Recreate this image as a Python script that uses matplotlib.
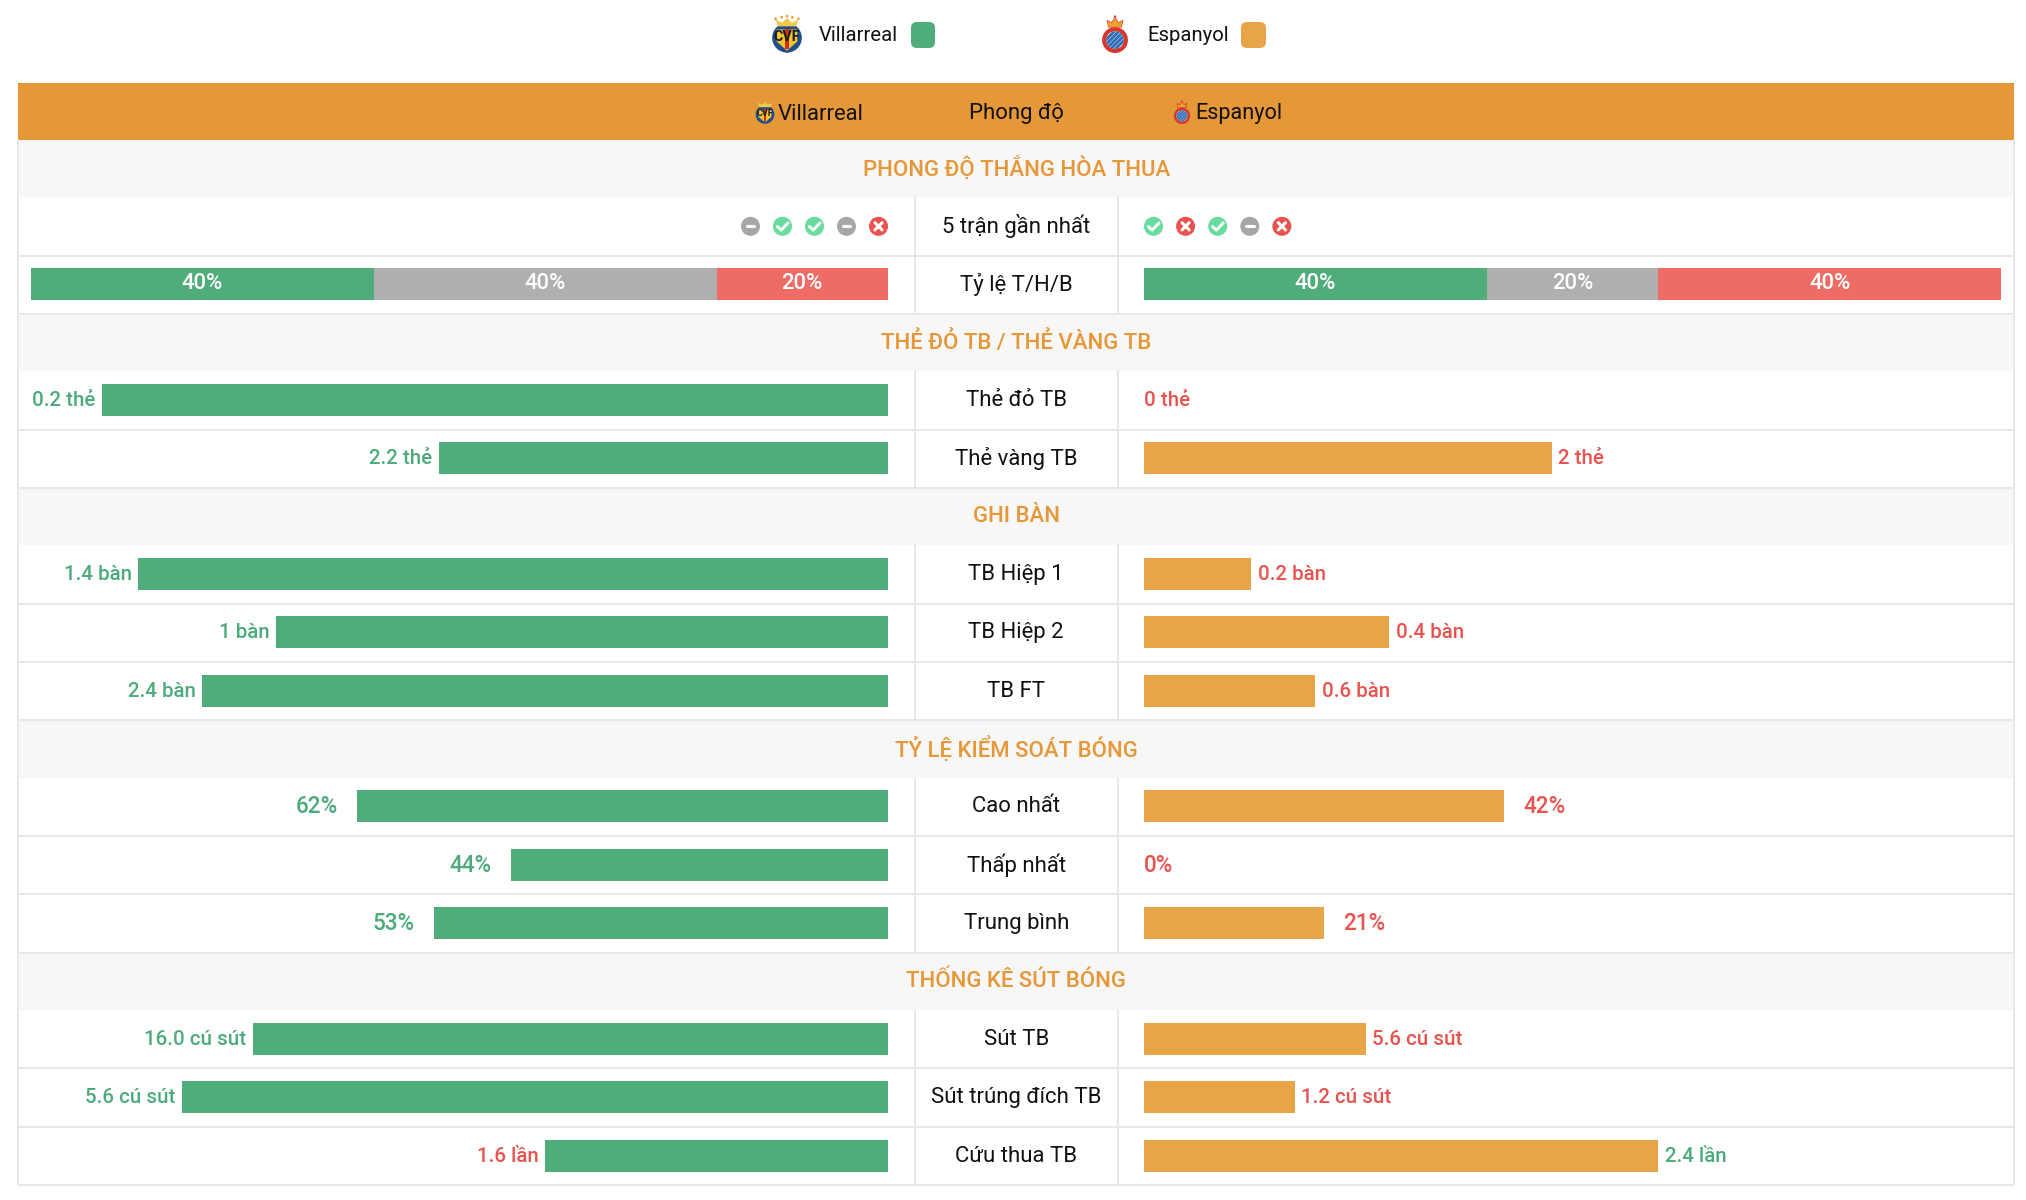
import matplotlib
matplotlib.use("Agg")
import matplotlib.pyplot as plt
from matplotlib.patches import Rectangle, FancyBboxPatch, Circle, Polygon

GREEN = "#4FAC7B"
ORANGE = "#E8A547"
GREY = "#AFAFAF"
RED = "#EF6B65"
HEADER = "#E69737"
TXT_GREEN = "#4DAB7B"
TXT_RED = "#E8534F"
LINE = "#E8E8E8"

sections = ["PHONG ĐỘ THẮNG HÒA THUA", "THẺ ĐỎ TB / THẺ VÀNG TB", "GHI BÀN",
            "TỶ LỆ KIỂM SOÁT BÓNG", "THỐNG KÊ SÚT BÓNG"]
rows_per_section = [2, 2, 3, 3, 3]

form_home = ["D", "W", "W", "D", "L"]
form_away = ["W", "L", "W", "D", "L"]
rate_home = [40, 40, 20]
rate_away = [40, 20, 40]

stat_names = ["Thẻ đỏ TB", "Thẻ vàng TB", "TB Hiệp 1", "TB Hiệp 2", "TB FT",
              "Cao nhất", "Thấp nhất", "Trung bình", "Sút TB", "Sút trúng đích TB", "Cứu thua TB"]
# bar length as share of the cell
home_share = [0.917, 0.524, 0.875, 0.714, 0.80, 0.62, 0.44, 0.53, 0.741, 0.824, 0.40]
away_share = [0.0, 0.476, 0.125, 0.286, 0.20, 0.42, 0.0, 0.21, 0.259, 0.176, 0.60]
home_labels = ["0.2 thẻ", "2.2 thẻ", "1.4 bàn", "1 bàn", "2.4 bàn", "62%", "44%", "53%",
               "16.0 cú sút", "5.6 cú sút", "1.6 lần"]
away_labels = ["0 thẻ", "2 thẻ", "0.2 bàn", "0.4 bàn", "0.6 bàn", "42%", "0%", "21%",
               "5.6 cú sút", "1.2 cú sút", "2.4 lần"]
home_label_win = [True, True, True, True, True, True, True, True, True, True, False]
away_label_win = [False, False, False, False, False, False, False, False, False, False, True]

plt.rcParams["font.family"] = ["Roboto", "DejaVu Sans"]

W, H = 2026, 1200
fig = plt.figure(figsize=(W / 100, H / 100), dpi=100)
ax = fig.add_axes([0, 0, 1, 1])
ax.set_xlim(0, W)
ax.set_ylim(H, 0)
ax.axis("off")

TABLE_L, TABLE_R = 18, 2013.5
COL_L, COL_R = 914.5, 1118
HOME_R, AWAY_L = 888, 1144
SPAN = 857
CENTER = (COL_L + COL_R) / 2
FS = 15.9
SEC_H = 57.1
ROW_H = 58.45


def villarreal_logo(x, y, s):
    # x, y is the centre, s the full height
    cy = y + .10 * s
    ax.add_patch(Circle((x, cy), .39 * s, fc="#1F4E8C", ec="none", zorder=3))
    ax.add_patch(Polygon([(x - .25 * s, cy + .26 * s), (x + .25 * s, cy + .26 * s), (x, y + .50 * s)],
                         fc="#1F4E8C", ec="none", zorder=3))
    ax.add_patch(Polygon([(x - .27 * s, cy - .22 * s), (x + .27 * s, cy - .22 * s), (x + .27 * s, cy + .10 * s),
                          (x, y + .44 * s), (x - .27 * s, cy + .10 * s)], fc="#F2C230", ec="none", zorder=3))
    ax.add_patch(Polygon([(x - .05 * s, cy - .22 * s), (x + .05 * s, cy - .22 * s), (x + .05 * s, y + .40 * s),
                          (x - .05 * s, y + .40 * s)], fc="#C8321F", ec="none", zorder=3))
    ax.text(x, cy - .03 * s, "CVF", fontsize=s * .27, fontweight="bold", color="#1A1A1A", ha="center", va="center", zorder=4)
    ax.add_patch(Polygon([(x - .24 * s, y - .20 * s), (x - .30 * s, y - .38 * s), (x - .13 * s, y - .30 * s), (x, y - .42 * s),
                          (x + .13 * s, y - .30 * s), (x + .30 * s, y - .38 * s), (x + .24 * s, y - .20 * s)],
                         fc="#F2C94C", ec="none", zorder=3))
    for dx, dy in ((-.30, -.40), (-.14, -.44), (0, -.47), (.14, -.44), (.30, -.40)):
        ax.add_patch(Circle((x + dx * s, y + dy * s), .035 * s, fc="#E8A030", ec="none", zorder=3))


def espanyol_logo(x, y, s):
    r = .34 * s
    cy = y + .16 * s
    ax.add_patch(Circle((x, cy), r, fc="#D8352B", ec="none", zorder=3))
    inner = Circle((x, cy), r * .68, fc="#FFFFFF", ec="none", zorder=3)
    ax.add_patch(inner)
    for k in (-2, -1, 0, 1, 2):
        d = k * r * .36
        stripe, = ax.plot([x + d - r * .8, x + d + r * .8], [cy + r * .8, cy - r * .8], color="#2F6DB5",
                          lw=s * .055, solid_capstyle="butt", zorder=4)
        stripe.set_clip_path(inner)
    ax.add_patch(Polygon([(x - .17 * s, y - .18 * s), (x - .21 * s, y - .36 * s), (x - .09 * s, y - .30 * s), (x, y - .44 * s),
                          (x + .09 * s, y - .30 * s), (x + .21 * s, y - .36 * s), (x + .17 * s, y - .18 * s)],
                         fc="#EBA52F", ec="#D8352B", lw=.5, zorder=3))
    ax.add_patch(Circle((x, y - .46 * s), .03 * s, fc="#D8352B", ec="none", zorder=3))


def result_icon(x, y, res):
    col = {"W": "#68DB9F", "L": "#E8534F", "D": "#A6A6A6"}[res]
    ax.add_patch(Circle((x, y), 9.5, fc=col, ec="none", zorder=3))
    if res == "W":
        ax.plot([x - 5.2, x - 1.4, x + 5.6], [y + .2, y + 3.8, y - 3.4], color="white", lw=2.1,
                solid_capstyle="round", zorder=4)
    elif res == "L":
        ax.plot([x - 3.6, x + 3.6], [y - 3.6, y + 3.6], color="white", lw=2.2, solid_capstyle="round", zorder=4)
        ax.plot([x - 3.6, x + 3.6], [y + 3.6, y - 3.6], color="white", lw=2.2, solid_capstyle="round", zorder=4)
    else:
        ax.plot([x - 3.8, x + 3.8], [y, y], color="white", lw=2.2, solid_capstyle="round", zorder=4)


# legend on top
villarreal_logo(787, 34, 38)
ax.text(819, 35.5, "Villarreal", fontsize=14.6, color="#111111", ha="left", va="center")
ax.add_patch(FancyBboxPatch((911, 22), 24, 26, boxstyle="round,pad=0,rounding_size=6", fc=GREEN, ec="none"))
espanyol_logo(1115, 34, 38)
ax.text(1147, 35.5, "Espanyol", fontsize=14.6, color="#111111", ha="left", va="center")
ax.add_patch(FancyBboxPatch((1241, 22), 25, 26, boxstyle="round,pad=0,rounding_size=6", fc=ORANGE, ec="none"))

# header band
ax.add_patch(Rectangle((TABLE_L, 83), TABLE_R - TABLE_L, 57, fc=HEADER, ec="none"))
villarreal_logo(765, 112, 24)
ax.text(778, 114, "Villarreal", fontsize=FS, color="#111111", ha="left", va="center")
ax.text(CENTER, 113, "Phong độ", fontsize=FS, color="#111111", ha="center", va="center")
espanyol_logo(1182, 112, 24)
ax.text(1195, 114, "Espanyol", fontsize=FS * .98, color="#111111", ha="left", va="center")

y = 140
stat_i = 0
for sec_i, title in enumerate(sections):
    ax.add_patch(Rectangle((TABLE_L, y), TABLE_R - TABLE_L, SEC_H, fc="#F7F7F7", ec="none"))
    ax.text(CENTER, y + SEC_H / 2, title, fontsize=FS, fontweight="medium", color=HEADER, ha="center", va="center")
    y += SEC_H
    for r in range(rows_per_section[sec_i]):
        mid = y + ROW_H / 2
        ax.plot([COL_L, COL_L], [y, y + ROW_H], color=LINE, lw=1.4)
        ax.plot([COL_R, COL_R], [y, y + ROW_H], color=LINE, lw=1.4)
        ax.plot([TABLE_L, TABLE_R], [y + ROW_H, y + ROW_H], color=LINE, lw=1.4)
        if sec_i == 0 and r == 0:
            for i, res in enumerate(form_home):
                result_icon(750.5 + 32 * i, mid, res)
            for i, res in enumerate(form_away):
                result_icon(1153.5 + 32.1 * i, mid, res)
            ax.text(CENTER, mid, "5 trận gần nhất", fontsize=FS, color="#111111", ha="center", va="center")
        elif sec_i == 0:
            for vals, start in ((rate_home, HOME_R - SPAN), (rate_away, AWAY_L)):
                left = start
                for v, c in zip(vals, (GREEN, GREY, RED)):
                    w = SPAN * v / 100
                    ax.barh(mid - .5, w, height=32, left=left, color=c, linewidth=0)
                    ax.text(left + w / 2, mid - 1, f"{v}%", fontsize=FS * 1.0, fontweight="medium", color="white",
                            ha="center", va="center")
                    left += w
            ax.text(CENTER, mid, "Tỷ lệ T/H/B", fontsize=FS, color="#111111", ha="center", va="center")
        else:
            pct = home_labels[stat_i].endswith("%")
            hw = home_share[stat_i] * SPAN
            aw = away_share[stat_i] * SPAN
            ax.barh(mid - .5, hw, height=32, left=HOME_R - hw, color=GREEN, linewidth=0)
            if aw > 0:
                ax.barh(mid - .5, aw, height=32, left=AWAY_L, color=ORANGE, linewidth=0)
            gap = 19 if pct else 6.5
            size = FS * 1.02 if pct else FS * .93
            ax.text(HOME_R - hw - gap, mid, home_labels[stat_i], fontsize=size, fontweight="medium",
                    color=TXT_GREEN if home_label_win[stat_i] else TXT_RED, ha="right", va="center")
            ax.text(AWAY_L + aw + (gap if aw > 0 else 0), mid, away_labels[stat_i], fontsize=size, fontweight="medium",
                    color=TXT_GREEN if away_label_win[stat_i] else TXT_RED, ha="left", va="center")
            ax.text(CENTER, mid, stat_names[stat_i], fontsize=FS, color="#111111", ha="center", va="center")
            stat_i += 1
        y += ROW_H

# table frame
ax.plot([TABLE_L, TABLE_L], [140, y], color=LINE, lw=1.4)
ax.plot([TABLE_R, TABLE_R], [140, y], color=LINE, lw=1.4)

fig.savefig("out.png", dpi=100, facecolor="white")
